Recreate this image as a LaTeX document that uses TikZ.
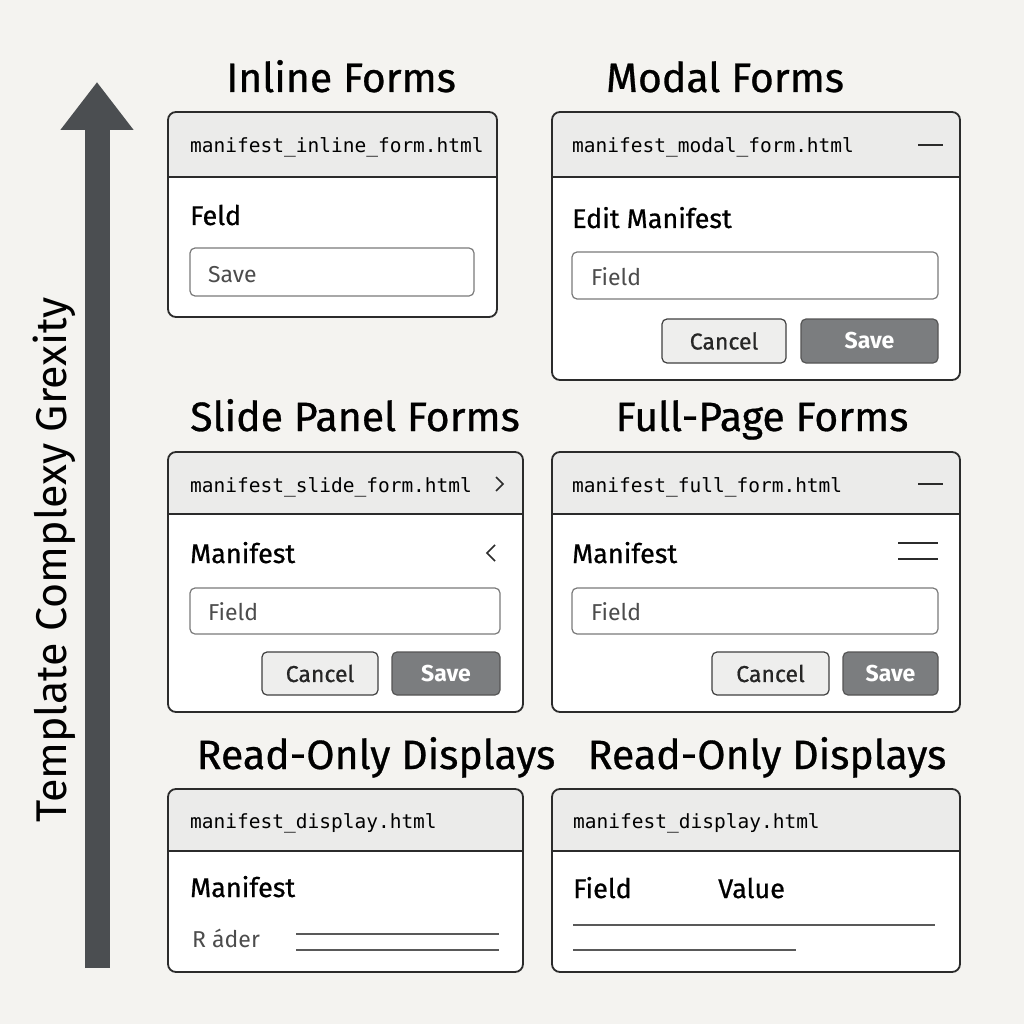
\documentclass[tikz,border=0pt]{standalone}
\usepackage{fontspec}
\setmainfont{Fira Sans}
\setmonofont{DejaVu Sans Mono}
\newfontfamily\medfont{Fira Sans}[FakeBold=0.7]
\usepackage{xcolor}
\usetikzlibrary{arrows.meta, positioning}

\definecolor{pagebg}{HTML}{F4F3F0}
\definecolor{headbg}{HTML}{EBEBEA}
\definecolor{edgecol}{HTML}{2B2B2B}
\definecolor{fieldcol}{HTML}{7A7A7A}
\definecolor{cancelbg}{HTML}{EEEEED}
\definecolor{savebg}{HTML}{7B7D7F}
\definecolor{axiscol}{HTML}{4B4E51}

% one card: x1, y1, x2, y2, bottom of header
\newcommand{\formcard}[5]{%
  \fill[white, rounded corners=8pt] (#1,#2) rectangle (#3,#4);
  \fill[headbg] (#1,#5) {[rounded corners=8pt] -- (#1,#2) -- (#3,#2)} -- (#3,#5) -- cycle;
  \draw[edgecol, line width=1.8pt] (#1,#5) -- (#3,#5);
  \draw[edgecol, line width=1.8pt, rounded corners=8pt] (#1,#2) rectangle (#3,#4);
}

\begin{document}
\begin{tikzpicture}[x=1pt, y=-1pt,
    title/.style={anchor=base, inner sep=0pt, font=\medfont\fontsize{41}{43}\selectfont},
    filetxt/.style={anchor=base west, inner sep=0pt, font=\ttfamily\fontsize{19.5}{22}\selectfont},
    label/.style={anchor=base west, inner sep=0pt, font=\medfont\fontsize{27}{29}\selectfont},
    fieldtxt/.style={anchor=base west, inner sep=0pt, text=black!70, font=\fontsize{23}{25}\selectfont},
    fieldbox/.style={draw=fieldcol, line width=1.2pt, rounded corners=5pt},
    cancelbtn/.style={draw=edgecol!90, line width=1.2pt, fill=cancelbg, rounded corners=5pt,
      text=black!85, font=\medfont\fontsize{23}{25}\selectfont},
    savebtn/.style={draw=edgecol!80, line width=1.2pt, fill=savebg, rounded corners=5pt,
      text=white, font=\bfseries\fontsize{23}{25}\selectfont},
    icon/.style={edgecol, line width=1.6pt},
    rule/.style={black!65, line width=1.2pt}]

  % Background
  \fill[pagebg] (0,0) rectangle (1024,1024);
  \useasboundingbox (0,0) rectangle (1024,1024);

  % Complexity axis
  \coordinate (axisbot) at (97,968);
  \coordinate (axistop) at (97,82);
  \draw[axiscol, line width=25pt, -{Triangle[width=70pt, length=48pt]}] (axisbot) -- (axistop);
  \node[rotate=90, inner sep=0pt, font=\fontsize{43}{45}\selectfont] (axislabel) at (54,560) {Template Complexy Grexity};

  % Inline forms
  \node[title] (tinline) at (341,92) {Inline Forms};
  \formcard{168}{112}{497}{317}{177}
  \node[filetxt] (finline) at (190,153) {manifest\_inline\_form.html};
  \node[label] (linline) at (190,225) {Feld};
  \draw[fieldbox] (190,248) rectangle (474,296);
  \node[fieldtxt] (xinline) at (208,282) {Save};

  % Modal forms
  \node[title] (tmodal) at (725,92) {Modal Forms};
  \formcard{552}{112}{960}{380}{177}
  \node[filetxt] (fmodal) at (572,153) {manifest\_modal\_form.html};
  \draw[icon] (918,145) -- (943,145);
  \node[label] (lmodal) at (572,228) {Edit Manifest};
  \draw[fieldbox] (572,252) rectangle (938,299);
  \node[fieldtxt] (xmodal) at (591,285) {Field};
  \node[cancelbtn, minimum width=124pt, minimum height=44pt] (cmodal) at (724,341) {Cancel};
  \node[savebtn, minimum width=137pt, minimum height=44pt] (smodal) at (869.5,341) {Save};

  % Slide panel forms
  \node[title] (tslide) at (355,431) {Slide Panel Forms};
  \formcard{168}{452}{523}{712}{514}
  \node[filetxt] (fslide) at (190,492) {manifest\_slide\_form.html};
  \draw[icon] (496,477) -- (503,484) -- (496,491);
  \node[label] (lslide) at (190,563) {Manifest};
  \draw[icon] (495,545) -- (487,553) -- (495,561);
  \draw[fieldbox] (190,588) rectangle (500,634);
  \node[fieldtxt] (xslide) at (208,620) {Field};
  \node[cancelbtn, minimum width=116pt, minimum height=43pt] (cslide) at (320,673.5) {Cancel};
  \node[savebtn, minimum width=108pt, minimum height=43pt] (sslide) at (446,673.5) {Save};

  % Full-page forms
  \node[title] (tfull) at (762,431) {Full-Page Forms};
  \formcard{552}{452}{960}{712}{514}
  \node[filetxt] (ffull) at (572,492) {manifest\_full\_form.html};
  \draw[icon] (918,484) -- (943,484);
  \node[label] (lfull) at (572,563) {Manifest};
  \draw[icon] (898,543) -- (938,543);
  \draw[icon] (898,559) -- (938,559);
  \draw[fieldbox] (572,588) rectangle (938,634);
  \node[fieldtxt] (xfull) at (591,620) {Field};
  \node[cancelbtn, minimum width=117pt, minimum height=43pt] (cfull) at (770.5,673.5) {Cancel};
  \node[savebtn, minimum width=95pt, minimum height=43pt] (sfull) at (890.5,673.5) {Save};

  % Read-only displays
  \node[title] (tshow) at (376,769) {Read-Only Displays};
  \formcard{168}{789}{523}{972}{851}
  \node[filetxt] (fshow) at (190,828) {manifest\_display.html};
  \node[label] (lshow) at (190,897) {Manifest};
  \node[fieldtxt] (xshow) at (192,947) {R áder};
  \draw[rule] (296,934) -- (499,934);
  \draw[rule] (296,950) -- (499,950);

  \node[title] (ttable) at (767,769) {Read-Only Displays};
  \formcard{552}{789}{960}{972}{851}
  \node[filetxt] (ftable) at (573,828) {manifest\_display.html};
  \node[label] (ltable) at (573,898) {Field};
  \node[label] (vtable) at (718,898) {Value};
  \draw[rule] (573,925) -- (935,925);
  \draw[rule] (573,950) -- (796,950);
\end{tikzpicture}
\end{document}
